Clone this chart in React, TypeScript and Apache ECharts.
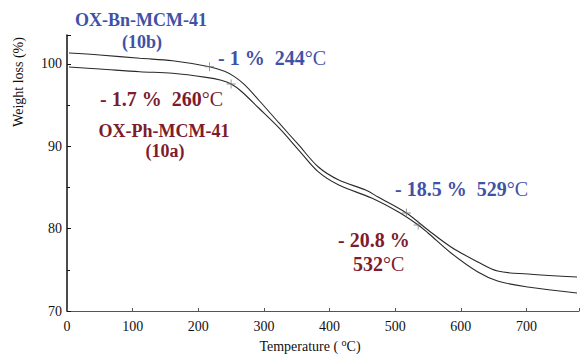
import React, { useEffect, useRef } from "react";
import * as echarts from "echarts";

// Temperature (°C) and weight (%)
const tempBn = [3, 50, 111, 161, 217, 240, 255, 270, 292, 323, 353, 383, 414, 455, 474, 517, 550, 585, 626, 656, 702, 777];
const weightBn = [101.31, 101.07, 100.67, 100.38, 99.65, 99.1, 98.45, 97.5, 95.61, 92.82, 90.15, 87.48, 85.9, 84.68, 83.83, 81.89, 79.83, 77.77, 75.95, 74.85, 74.49, 74.13];

const tempPh = [3, 50, 111, 161, 212, 235, 250, 265, 292, 323, 353, 383, 414, 464, 505, 535, 550, 585, 626, 656, 702, 777];
const weightPh = [99.61, 99.37, 99.04, 98.85, 98.36, 98.0, 97.55, 96.7, 94.64, 92.22, 89.54, 86.88, 85.29, 83.71, 82.01, 80.44, 79.47, 77.04, 74.73, 73.64, 72.91, 72.18];

// "+" marks on the curves
const markTemps = [217, 517, 250, 535];
const markWeights = [99.65, 81.89, 97.55, 80.44];

const xTicks = [0, 100, 200, 300, 400, 500, 600, 700];
const yTicks = [70, 80, 90, 100];

const BLUE = "#4151a6";
const RED = "#7d1c2c";
const SERIF = "'Liberation Serif', 'Times New Roman', serif";

export default function App() {
  const ref = useRef<HTMLDivElement>(null);
  useEffect(() => {
    document.body.style.margin = "0";
    const chart = echarts.init(ref.current!, null, { renderer: "svg" });
    const pair = (xs: number[], ys: number[]) => xs.map((x, i) => [x, ys[i]]);
    const bold = (c: string, s: number) => ({ fontFamily: SERIF, fontWeight: "bold" as const, fontSize: s, fill: c, color: c });
    const norm = (c: string, s: number) => ({ fontFamily: SERIF, fontWeight: "normal" as const, fontSize: s, fill: c, color: c });
    const richText = (c: string) => ({ b: bold(c, 20), n: norm(c, 20) });
    const txt = (x: number, y: number, text: string, c: string, align: string, size: number, rich?: any) => ({
      type: "text",
      x,
      y,
      style: {
        text,
        fill: c,
        font: `bold ${size}px ${SERIF}`,
        textAlign: align,
        textVerticalAlign: "middle",
        rich,
      },
    });
    chart.setOption({
      animation: false,
      grid: { left: 67, right: 0, top: 35, bottom: 43 },
      xAxis: {
        type: "value",
        min: 0,
        max: 780,
        interval: 100,
        splitLine: { show: false },
        axisLine: { show: true, lineStyle: { color: "#555", width: 1 } },
        axisTick: { show: true, inside: true, length: 3, lineStyle: { color: "#555" } },
        axisLabel: {
          margin: 8,
          fontFamily: SERIF,
          fontSize: 14,
          color: "#111",
          formatter: (v: number) => (xTicks.includes(v) ? String(v) : ""),
        },
      },
      yAxis: {
        type: "value",
        min: 70,
        max: 103.5,
        interval: 10,
        splitLine: { show: false },
        axisLine: { show: true, lineStyle: { color: "#111", width: 1.5 } },
        axisTick: { show: true, inside: true, length: 4, lineStyle: { color: "#111" } },
        minorTick: { show: true, splitNumber: 2, length: 3, lineStyle: { color: "#111" } },
        axisLabel: {
          margin: 5,
          fontFamily: SERIF,
          fontSize: 14,
          color: "#111",
          formatter: (v: number) => (yTicks.includes(v) ? String(v) : ""),
        },
      },
      series: [
        {
          name: "OX-Bn-MCM-41 (10b)",
          type: "line",
          data: pair(tempBn, weightBn),
          smooth: 0.35,
          showSymbol: false,
          lineStyle: { color: "#2a2a2a", width: 1.1 },
        },
        {
          name: "OX-Ph-MCM-41 (10a)",
          type: "line",
          data: pair(tempPh, weightPh),
          smooth: 0.35,
          showSymbol: false,
          lineStyle: { color: "#2a2a2a", width: 1.1 },
        },
        {
          type: "scatter",
          data: pair(markTemps, markWeights),
          symbol: "path://M4.5,0h1v4.5h4.5v1h-4.5v4.5h-1v-4.5h-4.5v-1h4.5z",
          symbolSize: 9,
          itemStyle: { color: "#777" },
          z: 3,
        },
      ],
      graphic: [
        txt(141, 20, "OX-Bn-MCM-41", BLUE, "center", 18),
        txt(142, 42, "(10b)", BLUE, "center", 18),
        txt(218, 58, "{b|- 1 %  244}{n|°C}", BLUE, "left", 20, richText(BLUE)),
        txt(100, 99, "{b|- 1.7 %  260}{n|°C}", RED, "left", 20, richText(RED)),
        txt(164, 131, "OX-Ph-MCM-41", RED, "center", 18),
        txt(165, 151, "(10a)", RED, "center", 18),
        txt(395, 189, "{b|- 18.5 %  529}{n|°C}", BLUE, "left", 20, richText(BLUE)),
        txt(338, 240, "- 20.8 %", RED, "left", 20),
        txt(353, 264, "{b|532}{n|°C}", RED, "left", 20, richText(RED)),
        {
          type: "text",
          x: 18,
          y: 82,
          rotation: Math.PI / 2,
          style: {
            text: "Weight loss (%)",
            fill: "#111",
            font: `14px ${SERIF}`,
            textAlign: "center",
            textVerticalAlign: "middle",
          },
        },
        {
          type: "text",
          x: 310,
          y: 346,
          style: {
            text: "{n|Temperature ( }{s|o}{n|C)}",
            fill: "#111",
            textAlign: "center",
            textVerticalAlign: "middle",
            rich: {
              n: { fontFamily: SERIF, fontSize: 14, fill: "#111", color: "#111" },
              s: { fontFamily: SERIF, fontSize: 10, fill: "#111", color: "#111", verticalAlign: "top", padding: [0, 0, 8, 0] },
            },
          },
        },
      ],
    });
    return () => chart.dispose();
  }, []);
  return <div ref={ref} style={{ width: 582, height: 354 }} />;
}
